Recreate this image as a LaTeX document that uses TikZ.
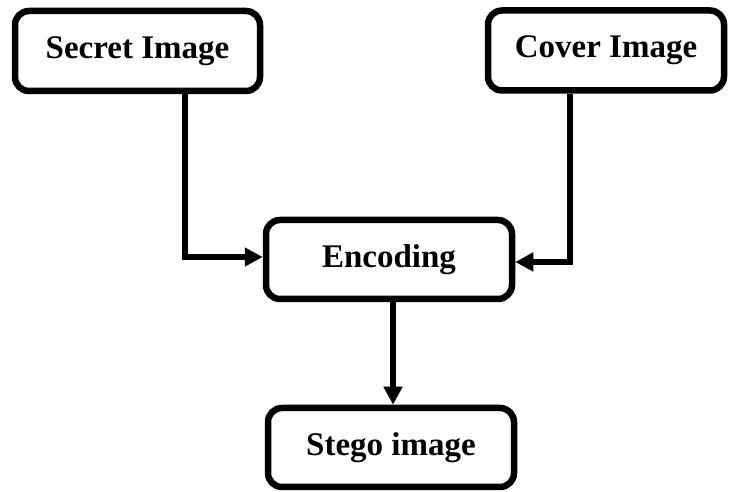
\documentclass[tikz,border=0pt]{standalone}
\usepackage{fontspec}
\setmainfont{Liberation Serif}
\usetikzlibrary{arrows.meta}
\begin{document}
\begin{tikzpicture}[x=1pt,y=1pt,
  box/.style={draw=black,line width=6.5pt,rounded corners=14pt,fill=white,
    minimum height=80pt,inner sep=0pt,
    font=\fontsize{33}{40}\selectfont\bfseries},
  arr/.style={line width=6pt,-{Triangle[length=18pt,width=18pt]}}]
\useasboundingbox[fill=white] (0,0) rectangle (729,492);
\node[box,minimum width=245pt] (secret) at (137.5,441) {Secret Image};
\node[box,minimum width=236pt] (cover) at (606,441.5) {Cover Image};
\node[box,minimum width=246pt,minimum height=79pt] (enc) at (389,232.5) {Encoding};
\node[box,minimum width=246pt,minimum height=79pt] (stego) at (391,44.5) {Stego image};
\draw[arr] ([xshift=47.5pt]secret.south) |- ([yshift=2.5pt]enc.west);
\draw[arr] ([xshift=-36pt]cover.south) |- ([yshift=-2.5pt]enc.east);
\draw[arr] ([xshift=4pt]enc.south) -- ([xshift=4pt]enc.south |- stego.north);
\end{tikzpicture}
\end{document}
